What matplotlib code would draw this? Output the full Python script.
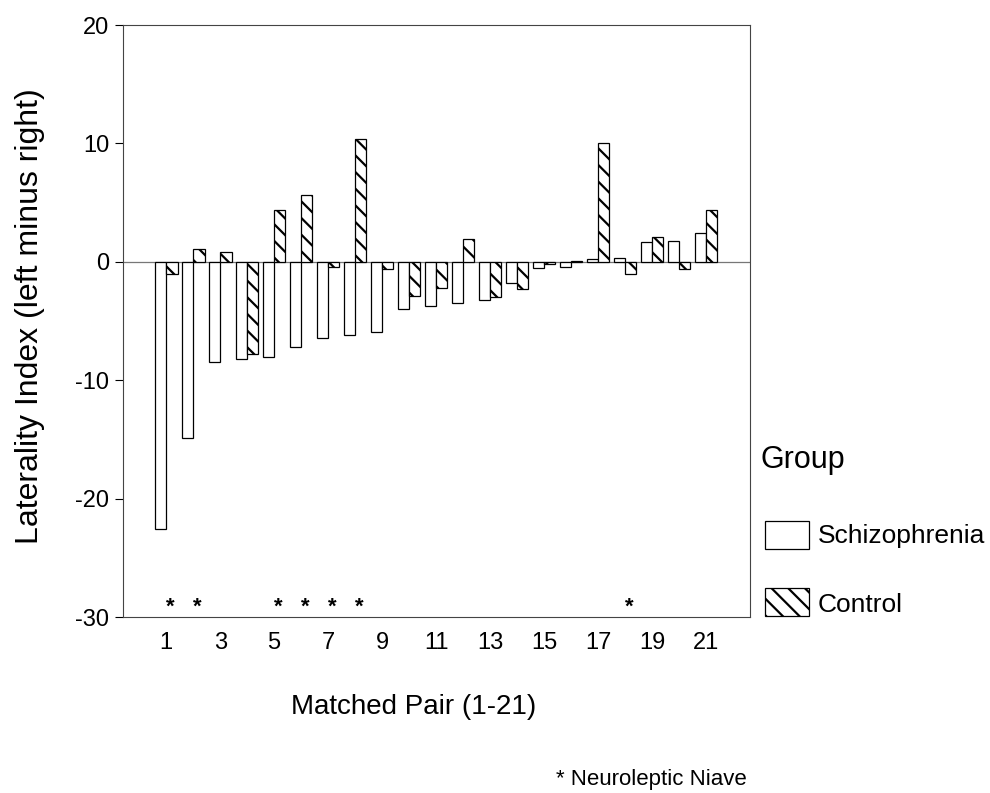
import numpy as np
import matplotlib
matplotlib.use('Agg')
import matplotlib.pyplot as plt
from matplotlib.patches import Rectangle

plt.rcParams['font.family'] = ['Liberation Sans', 'DejaVu Sans']
plt.rcParams['hatch.linewidth'] = 1.6
plt.rcParams['axes.unicode_minus'] = False

# values
pairs = np.arange(1, 22)
schizo = [-22.6, -14.9, -8.5, -8.2, -8.0, -7.2, -6.4, -6.2, -5.95, -4.0, -3.7,
          -3.45, -3.2, -1.75, -0.5, -0.4, 0.2, 0.35, 1.7, 1.75, 2.4]
control = [-1.0, 1.1, 0.85, -7.75, 4.4, 5.6, -0.45, 10.4, -0.6, -2.9, -2.25,
           1.9, -2.95, -2.3, -0.15, 0.08, 10.0, -1.0, 2.1, -0.6, 4.4]
naive = [1, 2, 5, 6, 7, 8, 18]
xticks = [1, 3, 5, 7, 9, 11, 13, 15, 17, 19, 21]
yticks = [-30, -20, -10, 0, 10, 20]

W, H = 990, 793
fig = plt.figure(figsize=(W / 100, H / 100), dpi=100)
ax = fig.add_axes([123 / W, 1 - 617 / H, 627 / W, 592 / H])

bw = 0.42
ax.bar(pairs, schizo, width=-bw, align='edge', facecolor='white',
       edgecolor='black', linewidth=0.9, zorder=3)
ax.bar(pairs, control, width=bw, align='edge', facecolor='white',
       edgecolor='black', linewidth=0.9, hatch='\\\\', zorder=3)
ax.axhline(0, color='#777777', linewidth=0.9, zorder=2)

for p in naive:
    ax.text(p + 0.17, -29.2, '*', ha='center', va='center', fontsize=16,
            fontweight='bold')

ax.set_xlim(-0.6, 22.63)
ax.set_ylim(-30, 20)
ax.set_xticks(xticks)
ax.set_yticks(yticks)
ax.tick_params(axis='x', length=0, pad=11, labelsize=17)
ax.tick_params(axis='y', length=6, width=0.8, pad=4, labelsize=17)
for s in ax.spines.values():
    s.set_linewidth(0.8)
    s.set_color('#444444')

fig.text(30 / W, 1 - 316 / H, 'Laterality Index (left minus right)',
         rotation=90, ha='center', va='center', fontsize=23)
fig.text(414 / W, 1 - 707 / H, 'Matched Pair (1-21)', ha='center',
         va='center', fontsize=20)
fig.text(747 / W, 1 - 780 / H, '* Neuroleptic Niave', ha='right',
         va='center', fontsize=16)

# legend drawn by hand, outside the axes
fig.text(760 / W, 1 - 460 / H, 'Group', ha='left', va='center', fontsize=22)
fig.add_artist(Rectangle((765 / W, 1 - 549 / H), 44 / W, 28 / H,
                         transform=fig.transFigure, facecolor='white',
                         edgecolor='black', linewidth=0.9))
fig.add_artist(Rectangle((765 / W, 1 - 616 / H), 44 / W, 28 / H,
                         transform=fig.transFigure, facecolor='white',
                         edgecolor='black', linewidth=0.9, hatch='\\\\'))
fig.text(818 / W, 1 - 543 / H, 'Schizophrenia', ha='left', va='baseline',
         fontsize=19)
fig.text(818 / W, 1 - 612 / H, 'Control', ha='left', va='baseline',
         fontsize=19)

fig.savefig('out.png', dpi=100, facecolor='white')
